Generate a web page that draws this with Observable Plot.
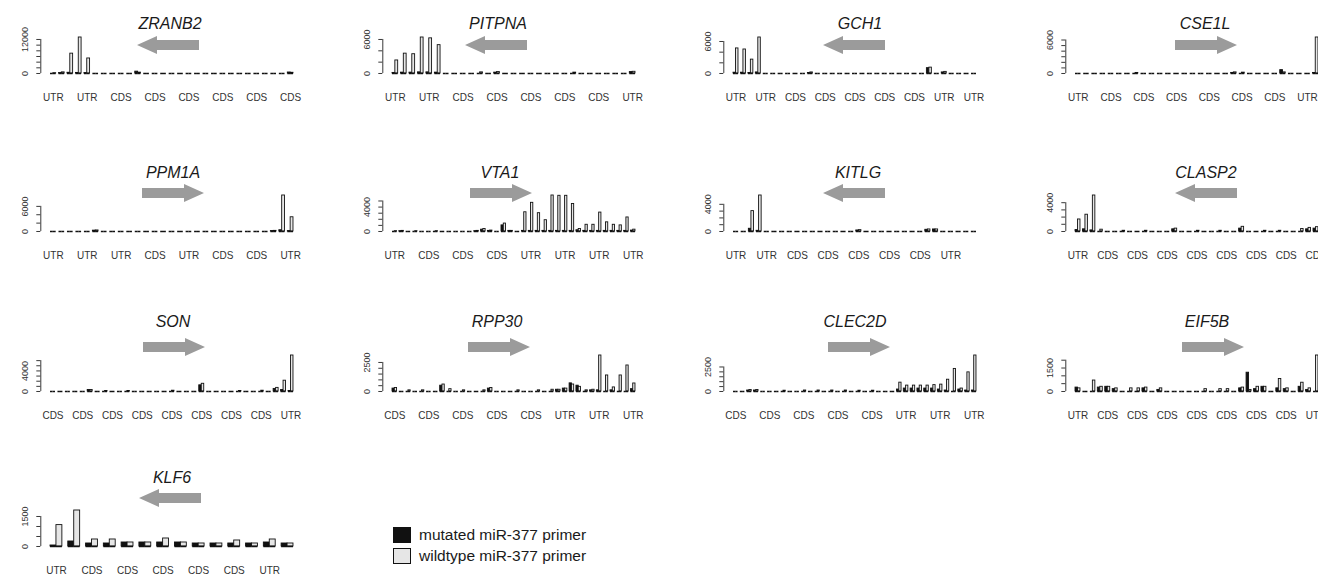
<!DOCTYPE html>
<html><head><meta charset="utf-8">
<script src="https://cdn.jsdelivr.net/npm/d3@7"></script>
<script src="https://cdn.jsdelivr.net/npm/@observablehq/plot@0.6"></script>
<style>
html,body{margin:0;padding:0;background:#fff;overflow:hidden;width:1318px;height:576px;}
#root{position:relative;width:1318px;height:576px;overflow:hidden;font-family:"Liberation Sans",Arial,sans-serif;}
.panel{position:absolute;}
.title{position:absolute;font-style:italic;font-size:16px;color:#1a1a1a;transform:translate(-50%,-50%);white-space:nowrap;}
.arrow{position:absolute;}
.legend{position:absolute;left:393px;top:524px;font-size:15.5px;color:#1a1a1a;}
.legend .row{display:flex;align-items:center;height:21px;}
.legend .sw{width:18px;height:16px;border:1px solid #111;box-sizing:border-box;margin-right:8px;}
</style>
</head><body><div id="root"></div>
<script>
// ---------- data ----------
const genes = ["ZRANB2","PITPNA","GCH1","CSE1L","PPM1A","VTA1","KITLG","CLASP2","SON","RPP30","CLEC2D","EIF5B","KLF6"];
const strand = ["left","left","left","right","right","right","left","left","right","right","right","right","left"];
const seriesNames = ["mutated miR-377 primer","wildtype miR-377 primer"];

const zranb2Mut = [0,150,250,200,150,0,0,0,0,0, 650,0,0,0,0,0,0,0,0,0, 0,0,0,0,0,0,0,0,350];
const zranb2Wt  = [100,400,7000,12700,5300,0,0,0,0,0, 300,0,0,0,0,0,0,0,0,0, 0,0,0,0,0,0,0,0,250];
const zranb2Labels = ["UTR","UTR","CDS","CDS","CDS","CDS","CDS","CDS"];
const zranb2LabelAt = [0,4,8,12,16,20,24,28];
const zranb2YTicks = [0,2000,4000,6000,8000,10000,12000];
const zranb2YLabels = [0,12000];

const pitpnaMut = [100,150,150,200,200,150,0,0,0,0, 0,0,150,0,0,0,0,0,0,0, 0,0,0,0,0,0,0,0,250];
const pitpnaWt  = [2300,3500,3400,6350,6200,5000,0,0,0,0, 200,0,250,0,0,0,0,0,0,0, 0,150,0,0,0,0,0,0,300];
const pitpnaLabels = ["UTR","UTR","CDS","CDS","CDS","CDS","CDS","UTR"];
const pitpnaLabelAt = [0,4,8,12,16,20,24,28];
const pitpnaYTicks = [0,2000,4000,6000];
const pitpnaYLabels = [0,6000];

const gch1Mut = [150,150,100,200,0,0,0,0,0,0, 100,0,0,0,0,0,0,0,0,0, 0,0,0,0,0,0,1000,0,200,0, 0,0,0];
const gch1Wt  = [4700,4500,2600,6750,0,0,0,0,0,0, 200,0,0,0,0,0,0,0,0,0, 0,0,0,0,0,0,1100,0,300,0, 0,0,0];
const gch1Labels = ["UTR","UTR","CDS","CDS","CDS","CDS","CDS","UTR","UTR"];
const gch1LabelAt = [0,4,8,12,16,20,24,28,32];
const gch1YTicks = [0,2000,4000,6000];
const gch1YLabels = [0,6000];

const cse1lMut = [0,0,0,0,0,0,0,0,0,0, 0,0,0,0,0,0,0,0,0,100, 0,0,0,0,0,600,0,0,0,100];
const cse1lWt  = [0,0,0,0,0,0,0,100,0,0, 0,0,0,0,0,0,0,0,0,200, 150,0,0,0,0,200,0,0,0,6450];
const cse1lLabels = ["UTR","CDS","CDS","CDS","CDS","CDS","CDS","UTR"];
const cse1lLabelAt = [0,4,8,12,16,20,24,28];
const cse1lYTicks = [0,1000,2000,3000,4000,5000,6000];
const cse1lYLabels = [0,6000];

const ppm1aMut = [0,0,0,0,0,200,0,0,0,0, 0,0,0,0,0,0,0,0,0,0, 0,0,0,0,0,0,100,300,100];
const ppm1aWt  = [0,0,0,0,0,250,0,0,0,0, 0,0,0,0,0,0,0,0,0,0, 0,0,0,0,0,0,150,8600,3400];
const ppm1aLabels = ["UTR","UTR","UTR","CDS","UTR","CDS","CDS","UTR"];
const ppm1aLabelAt = [0,4,8,12,16,20,24,28];
const ppm1aYTicks = [0,2000,4000,6000];
const ppm1aYLabels = [0,6000];

const vta1Mut = [0,50,0,0,0,0,0,0,0,0, 0,0,50,300,100,0,1000,100,0,100, 100,100,100,100,100,100,100,200,100,100, 100,100,100,100,100,150];
const vta1Wt  = [50,100,0,50,0,0,50,0,0,0, 0,0,100,400,150,0,1300,100,0,3150, 4700,3000,1850,5900,5850,5850,4500,400,1100,1100, 3100,1500,1100,1000,2300,300];
const vta1Labels = ["UTR","CDS","CDS","CDS","UTR","UTR","UTR","UTR"];
const vta1LabelAt = [0,5,10,15,20,25,30,35];
const vta1YTicks = [0,1000,2000,3000,4000,5000];
const vta1YLabels = [0,4000];

const kitlgMut = [0,0,400,100,0,0,0,0,0,0, 0,0,0,0,0,0,150,0,0,0, 0,0,0,0,0,250,300,0,0,0, 0,0];
const kitlgWt  = [0,0,3000,5300,0,0,0,0,0,0, 0,0,0,0,0,0,200,0,0,0, 0,0,0,0,0,300,300,0,0,0, 0,0];
const kitlgLabels = ["UTR","UTR","CDS","CDS","CDS","CDS","CDS","UTR"];
const kitlgLabelAt = [0,4,8,12,16,20,24,28];
const kitlgYTicks = [0,1000,2000,3000,4000];
const kitlgYLabels = [0,4000];

const clasp2Mut = [200,300,150,0,0,0,0,0,0,0, 0,0,0,300,0,0,0,0,0,0, 0,0,400,0,0,0,0,0,0,0, 0,300,400];
const clasp2Wt  = [1670,2330,5000,250,0,0,100,0,0,100, 0,0,0,400,0,0,100,0,0,100, 0,0,650,0,0,100,0,100,0,0, 350,500,600];
const clasp2Labels = ["UTR","CDS","CDS","CDS","CDS","CDS","CDS","CDS","CDS"];
const clasp2LabelAt = [0,4,8,12,16,20,24,28,32];
const clasp2YTicks = [0,1000,2000,3000,4000];
const clasp2YLabels = [0,4000];

const sonMut = [0,0,0,0,0,300,0,0,0,0, 0,0,0,0,0,0,0,0,0,0, 1200,0,0,0,0,0,0,0,0,0, 500,300,100];
const sonWt  = [0,0,0,0,0,300,0,100,0,0, 100,0,0,0,0,0,150,0,0,0, 1500,0,0,0,0,100,0,0,150,0, 700,2100,7000];
const sonLabels = ["CDS","CDS","CDS","CDS","CDS","CDS","CDS","CDS","UTR"];
const sonLabelAt = [0,4,8,12,16,20,24,28,32];
const sonYTicks = [0,1000,2000,3000,4000,5000,6000];
const sonYLabels = [0,4000];

const rpp30Mut = [250,0,0,0,0,0,0,500,0,0, 0,0,0,0,250,0,0,0,0,0, 0,0,0,0,150,250,700,500,0,100, 100,0,100,0,0,200];
const rpp30Wt  = [300,0,100,0,100,0,0,600,200,0, 100,0,0,100,300,0,0,0,100,0, 0,100,0,150,150,250,600,400,100,150, 3100,1380,350,1380,2240,690];
const rpp30Labels = ["CDS","CDS","CDS","CDS","CDS","UTR","UTR","UTR"];
const rpp30LabelAt = [0,5,10,15,20,25,30,35];
const rpp30YTicks = [0,500,1000,1500,2000,2500];
const rpp30YLabels = [0,2500];

const clec2dMut = [0,0,100,100,0,0,0,0,0,0, 0,0,0,0,0,0,0,0,0,0, 0,0,0,0,200,300,300,300,300,300, 200,100,0,200,100,100];
const clec2dWt  = [0,0,150,150,0,0,0,80,0,0, 100,0,100,0,100,0,100,0,80,0, 80,0,0,0,900,600,600,600,600,650, 700,1200,2300,300,1950,3670];
const clec2dLabels = ["CDS","CDS","CDS","CDS","CDS","UTR","UTR","UTR"];
const clec2dLabelAt = [0,5,10,15,20,25,30,35];
const clec2dYTicks = [0,500,1000,1500,2000,2500];
const clec2dYLabels = [0,2500];

const eif5bMut = [250,0,0,250,300,150,0,0,0,200, 0,100,0,0,0,0,0,0,0,0, 0,0,200,1200,150,300,0,200,150,0, 300,100,0];
const eif5bWt  = [200,0,700,300,300,200,0,200,200,250, 0,200,0,0,0,0,0,150,0,150, 150,0,250,100,300,300,0,800,200,0, 560,200,2300];
const eif5bLabels = ["UTR","CDS","CDS","CDS","CDS","CDS","CDS","CDS","UTR"];
const eif5bLabelAt = [0,4,8,12,16,20,24,28,32];
const eif5bYTicks = [0,500,1000,1500,2000];
const eif5bYLabels = [0,1500];

const klf6Mut = [50,250,150,150,200,200,200,200,150,150,150,150,200,150];
const klf6Wt  = [1070,1800,350,350,200,200,400,200,150,150,300,150,350,150];
const klf6Labels = ["UTR","CDS","CDS","CDS","CDS","CDS","UTR"];
const klf6LabelAt = [0,2,4,6,8,10,12];
const klf6YTicks = [0,500,1000,1500];
const klf6YLabels = [0,1500];

// ---------- layout ----------
const colBarStart = [50, 392, 733, 1075];
const rowTitleY = [24, 173, 322, 478];
const rowArrowY = [45, 193, 347, 498];
const rowBaseY  = [73, 231, 391, 546];
const panelCol = [0,1,2,3, 0,1,2,3, 0,1,2,3, 0];
const panelRow = [0,0,0,0, 1,1,1,1, 2,2,2,2, 3];
const titleX = [170,498,860,1205, 173,500,858,1206, 173,497,855,1207, 172];
const arrowLeft = [137,465,823,1175, 142,470,823,1175, 143,468,828,1182, 139];

const panels = [
  [zranb2Mut, zranb2Wt, zranb2Labels, zranb2LabelAt, zranb2YTicks, zranb2YLabels],
  [pitpnaMut, pitpnaWt, pitpnaLabels, pitpnaLabelAt, pitpnaYTicks, pitpnaYLabels],
  [gch1Mut, gch1Wt, gch1Labels, gch1LabelAt, gch1YTicks, gch1YLabels],
  [cse1lMut, cse1lWt, cse1lLabels, cse1lLabelAt, cse1lYTicks, cse1lYLabels],
  [ppm1aMut, ppm1aWt, ppm1aLabels, ppm1aLabelAt, ppm1aYTicks, ppm1aYLabels],
  [vta1Mut, vta1Wt, vta1Labels, vta1LabelAt, vta1YTicks, vta1YLabels],
  [kitlgMut, kitlgWt, kitlgLabels, kitlgLabelAt, kitlgYTicks, kitlgYLabels],
  [clasp2Mut, clasp2Wt, clasp2Labels, clasp2LabelAt, clasp2YTicks, clasp2YLabels],
  [sonMut, sonWt, sonLabels, sonLabelAt, sonYTicks, sonYLabels],
  [rpp30Mut, rpp30Wt, rpp30Labels, rpp30LabelAt, rpp30YTicks, rpp30YLabels],
  [clec2dMut, clec2dWt, clec2dLabels, clec2dLabelAt, clec2dYTicks, clec2dYLabels],
  [eif5bMut, eif5bWt, eif5bLabels, eif5bLabelAt, eif5bYTicks, eif5bYLabels],
  [klf6Mut, klf6Wt, klf6Labels, klf6LabelAt, klf6YTicks, klf6YLabels]
];

const BAR_SPAN = 243, H = 36, MT = 24, MB = 36, LEFT_PAD = 60, MR = 20;
const FILL = {"mutated miR-377 primer": "#111111", "wildtype miR-377 primer": "#e6e6e6"};
const root = document.getElementById("root");

panels.forEach(([mut, wt, labels, labelAt, yTicks, yLabels], i) => {
  const n = mut.length;
  const span = 3 * n - 1;
  const pad = 0.04 * span;
  const bars = [];
  for (let g = 0; g < n; g++) {
    bars.push({x1: 3 * g, x2: 3 * g + 1, v: mut[g], s: seriesNames[0]});
    bars.push({x1: 3 * g + 1, x2: 3 * g + 2, v: wt[g], s: seriesNames[1]});
  }
  const ymax = d3.max(bars, d => d.v);
  const ML = LEFT_PAD - 0.04 * BAR_SPAN;
  const W = ML + BAR_SPAN * 1.08 + MR;
  const HH = MT + H + MB;
  const col = panelCol[i], row = panelRow[i];
  const xLab = labelAt.map((g, k) => ({g, t: labels[k]}));

  const chart = Plot.plot({
    width: W, height: HH,
    marginLeft: ML, marginRight: MR, marginTop: MT, marginBottom: MB,
    x: {domain: [-pad, span + pad], axis: null},
    y: {domain: [0, ymax], axis: null},
    style: {background: "transparent", overflow: "visible", maxWidth: "none", color: "#111",
            fontFamily: "'Liberation Sans', Arial, sans-serif"},
    marks: [
      Plot.rectY(bars, {x1: "x1", x2: "x2", y1: 0, y2: "v",
        fill: d => FILL[d.s], stroke: "#111", strokeWidth: 0.9}),
      Plot.ruleY(bars, {x1: "x1", x2: "x2", y: 0, stroke: "#111", strokeWidth: 1.5}),
      Plot.ruleX([0], {x: () => -pad, y1: 0, y2: () => d3.max(yTicks), stroke: "#222", strokeWidth: 0.9}),
      Plot.axisY({ticks: yTicks, tickSize: 4, tickFormat: () => "", label: null, anchor: "left", stroke: "#222", strokeWidth: 0.9}),
      Plot.text(yLabels, {x: () => -pad, y: d => d, text: d => String(d), rotate: -90,
        dx: -16, textAnchor: "middle", lineAnchor: "middle", fontSize: 9, fill: "#333"}),
      Plot.text(xLab, {x: d => 3 * d.g + 1, y: () => 0, text: "t", dy: 24,
        fontSize: 10, fill: "#333", lineAnchor: "middle"})
    ]
  });
  const div = document.createElement("div");
  div.className = "panel";
  div.style.left = (colBarStart[col] - LEFT_PAD) + "px";
  div.style.top = (rowBaseY[row] - H - MT) + "px";
  div.style.width = W + "px";
  div.style.height = HH + "px";
  div.appendChild(chart);
  root.appendChild(div);

  // title
  const t = document.createElement("div");
  t.className = "title";
  t.textContent = genes[i];
  t.style.left = titleX[i] + "px";
  t.style.top = rowTitleY[row] + "px";
  root.appendChild(t);

  // strand arrow
  const AL = 62, AH = 18, HEAD = 20, SH = 10;
  const svg = d3.create("svg").attr("class", "arrow").attr("width", AL).attr("height", AH)
    .style("left", arrowLeft[i] + "px").style("top", (rowArrowY[row] - AH / 2) + "px");
  const y0 = (AH - SH) / 2, y1 = (AH + SH) / 2;
  let pts = [[0, AH / 2], [HEAD, 0], [HEAD, y0], [AL, y0], [AL, y1], [HEAD, y1], [HEAD, AH]];
  if (strand[i] === "right") pts = pts.map(([x, y]) => [AL - x, y]);
  svg.append("polygon").attr("points", pts.map(p => p.join(",")).join(" ")).attr("fill", "#9b9b9b");
  root.appendChild(svg.node());
});

// legend
const leg = document.createElement("div");
leg.className = "legend";
seriesNames.forEach(s => {
  const r = document.createElement("div");
  r.className = "row";
  const sw = document.createElement("div");
  sw.className = "sw";
  sw.style.background = FILL[s];
  const tx = document.createElement("span");
  tx.textContent = s;
  r.appendChild(sw); r.appendChild(tx);
  leg.appendChild(r);
});
root.appendChild(leg);
</script>
</body></html>
